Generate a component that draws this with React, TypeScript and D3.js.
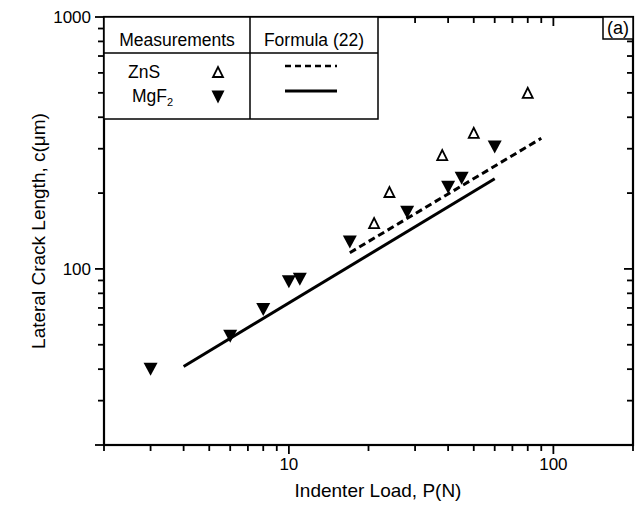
import * as d3 from "d3";

// MgF2 measurements (filled down triangles)
const mgf2Load = [3, 6, 8, 10, 11, 17, 28, 40, 45, 60];
const mgf2Crack = [40, 54, 69, 89, 91, 128, 168, 211, 229, 305];
// ZnS measurements (open up triangles)
const znsLoad = [21, 24, 38, 50, 80];
const znsCrack = [152, 202, 283, 347, 500];
// Formula (22) predictions
const solidLoad = [4, 60];
const solidCrack = [41, 228];
const dashLoad = [17, 90];
const dashCrack = [116, 330];

const xTickLabels = ["10", "100"];
const yTickLabels = ["100", "1000"];

const FONT = "'Liberation Sans', Arial, Helvetica, sans-serif";

const triDown = (cx: number, cy: number, w: number, h: number) =>
  `M${cx - w / 2},${cy - h / 2}L${cx + w / 2},${cy - h / 2}L${cx},${cy + h / 2}Z`;
const triUp = (cx: number, cy: number, w: number, h: number) =>
  `M${cx - w / 2},${cy + h / 2}L${cx + w / 2},${cy + h / 2}L${cx},${cy - h / 2}Z`;

export default function App() {
  const width = 640;
  const height = 507;
  const left = 104;
  const right = 633;
  const top = 17;
  const bottom = 445;

  const x = d3.scaleLog().domain([2, 200]).range([left, right]);
  const y = d3.scaleLog().domain([20, 1000]).range([bottom, top]);

  const isMajor = (v: number) => Math.abs(Math.log10(v) - Math.round(Math.log10(v))) < 1e-9;
  const xTicks = x.ticks().filter((v) => v > 2 && v < 200);
  const yTicks = y.ticks().filter((v) => v > 20 && v < 1000);

  const line = d3
    .line<[number, number]>()
    .x((d) => x(d[0]))
    .y((d) => y(d[1]));

  const solid = line(solidLoad.map((v, i) => [v, solidCrack[i]]));
  const dashed = line(dashLoad.map((v, i) => [v, dashCrack[i]]));

  return (
    <div style={{ position: "absolute", left: 0, top: 0 }}>
      <svg width={width} height={height} style={{ display: "block", background: "#fff" }}>
        {/* formula lines */}
        <path d={solid ?? ""} fill="none" stroke="#000" strokeWidth={3} />
        <path d={dashed ?? ""} fill="none" stroke="#000" strokeWidth={3} strokeDasharray="7,4" />

        {/* MgF2 */}
        {mgf2Load.map((v, i) => (
          <path key={"m" + i} d={triDown(x(v), y(mgf2Crack[i]), 14, 13)} fill="#000" />
        ))}
        {/* ZnS */}
        {znsLoad.map((v, i) => (
          <path
            key={"z" + i}
            d={triUp(x(v), y(znsCrack[i]), 10, 10)}
            fill="#fff"
            stroke="#000"
            strokeWidth={1.8}
          />
        ))}

        {/* ticks */}
        {xTicks.map((v) => {
          const len = isMajor(v) ? 9 : 6;
          return (
            <g key={"xt" + v} stroke="#000" strokeWidth={1.8}>
              <line x1={x(v)} x2={x(v)} y1={bottom} y2={bottom + len} />
              <line x1={x(v)} x2={x(v)} y1={top} y2={top + len} />
            </g>
          );
        })}
        {yTicks.map((v) => {
          const len = isMajor(v) ? 9 : 6;
          return (
            <g key={"yt" + v} stroke="#000" strokeWidth={1.8}>
              <line x1={left} x2={left - len} y1={y(v)} y2={y(v)} />
              <line x1={right} x2={right - len} y1={y(v)} y2={y(v)} />
            </g>
          );
        })}
        <line x1={left} x2={left - 9} y1={top} y2={top} stroke="#000" strokeWidth={1.8} />
        <line x1={left} x2={left - 9} y1={bottom} y2={bottom} stroke="#000" strokeWidth={1.8} />
        <line x1={left} x2={left} y1={bottom} y2={bottom + 6} stroke="#000" strokeWidth={1.8} />
        <line x1={right} x2={right} y1={bottom} y2={bottom + 6} stroke="#000" strokeWidth={1.8} />

        {/* frame */}
        <rect
          x={left}
          y={top}
          width={right - left}
          height={bottom - top}
          fill="none"
          stroke="#000"
          strokeWidth={2.2}
        />

        {/* tick labels */}
        {xTickLabels.map((t) => (
          <text
            key={"xl" + t}
            x={x(+t)}
            y={bottom + 25}
            textAnchor="middle"
            fontFamily={FONT}
            fontSize={17}
          >
            {t}
          </text>
        ))}
        {yTickLabels.map((t) => (
          <text
            key={"yl" + t}
            x={left - 13}
            y={y(+t) + 6}
            textAnchor="end"
            fontFamily={FONT}
            fontSize={17}
          >
            {t}
          </text>
        ))}

        {/* axis titles */}
        <text
          x={378}
          y={bottom + 52}
          textAnchor="middle"
          fontFamily={FONT}
          fontSize={19}
        >
          Indenter Load, P(N)
        </text>
        <text
          transform={`translate(45,${(top + bottom) / 2}) rotate(-90)`}
          textAnchor="middle"
          fontFamily={FONT}
          fontSize={19}
        >
          Lateral Crack Length, c(μm)
        </text>

        {/* legend table */}
        <g stroke="#000" strokeWidth={1.5} fill="none">
          <rect x={left} y={top} width={274} height={102} fill="#fff" />
          <line x1={left} x2={378} y1={53} y2={53} />
          <line x1={250} x2={250} y1={top} y2={119} />
        </g>
        <text x={177} y={46} textAnchor="middle" fontFamily={FONT} fontSize={17.5}>
          Measurements
        </text>
        <text x={314} y={46} textAnchor="middle" fontFamily={FONT} fontSize={17.5}>
          Formula (22)
        </text>
        <text x={128} y={78} fontFamily={FONT} fontSize={17.5}>
          ZnS
        </text>
        <text x={132} y={102} fontFamily={FONT} fontSize={17.5}>
          MgF
          <tspan fontSize={11} dy={4}>
            2
          </tspan>
        </text>
        <path d={triUp(218, 72, 10, 10)} fill="#fff" stroke="#000" strokeWidth={1.8} />
        <path d={triDown(218, 97, 13, 13)} fill="#000" />
        <line x1={285} x2={337} y1={66} y2={66} stroke="#000" strokeWidth={2.5} strokeDasharray="6,4" />
        <line x1={285} x2={337} y1={91} y2={91} stroke="#000" strokeWidth={3} />

        {/* panel tag */}
        <rect x={603} y={top} width={30} height={22} fill="#fff" stroke="#000" strokeWidth={1.5} />
        <text x={618} y={top + 17} textAnchor="middle" fontFamily={FONT} fontSize={18}>
          (a)
        </text>
      </svg>
    </div>
  );
}
